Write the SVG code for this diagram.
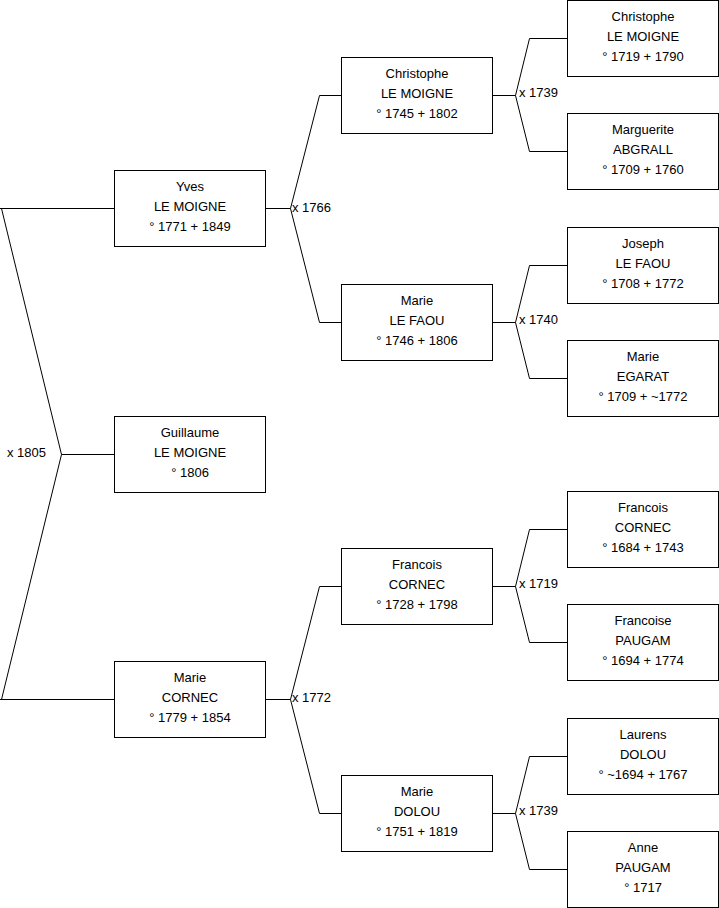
<svg xmlns="http://www.w3.org/2000/svg" width="719" height="908" viewBox="0 0 719 908">
<style>
rect.b{fill:#fff;stroke:#000;stroke-width:1}
text{font-family:"Liberation Sans",Arial,sans-serif;font-size:13px;fill:#000}
text.c{text-anchor:middle}
.ln path{fill:none;stroke:#000;stroke-width:1}
</style>
<rect width="719" height="908" fill="#fff"/>
<g class="ln" id="connectors">
<path d="M0,208.5H114.5M1.5,208.5L61.5,454.5L1.5,699.5M0,699.5H114.5M61.5,454.5H114.5"/>
<path d="M265.5,208.5H290.5L319.5,95.5H341.5M290.5,208.5L319.5,322.5H341.5"/>
<path d="M265.5,699.5H290.5L319.5,586.5H341.5M290.5,699.5L319.5,813.5H341.5"/>
<path d="M492.5,95.5H515.5L529.5,38.5H567.5M515.5,95.5L529.5,151.5H567.5"/>
<path d="M492.5,322.5H515.5L529.5,265.5H567.5M515.5,322.5L529.5,378.5H567.5"/>
<path d="M492.5,586.5H515.5L529.5,529.5H567.5M515.5,586.5L529.5,642.5H567.5"/>
<path d="M492.5,813.5H515.5L529.5,756.5H567.5M515.5,813.5L529.5,869.5H567.5"/>
<text x="7" y="457">x 1805</text>
<text x="292" y="212">x 1766</text>
<text x="292" y="702">x 1772</text>
<text x="519" y="97">x 1739</text>
<text x="519" y="324">x 1740</text>
<text x="519" y="588">x 1719</text>
<text x="519" y="815">x 1739</text>
</g>
<g id="yves"><rect class="b" x="114.5" y="170.5" width="151" height="76"/><text class="c" x="190" y="191">Yves</text><text class="c" x="190" y="211">LE MOIGNE</text><text class="c" x="190" y="231">° 1771 + 1849</text></g>
<g id="guillaume"><rect class="b" x="114.5" y="416.5" width="151" height="76"/><text class="c" x="190" y="437">Guillaume</text><text class="c" x="190" y="457">LE MOIGNE</text><text class="c" x="190" y="477">° 1806</text></g>
<g id="marie-cornec"><rect class="b" x="114.5" y="661.5" width="151" height="76"/><text class="c" x="190" y="682">Marie</text><text class="c" x="190" y="702">CORNEC</text><text class="c" x="190" y="722">° 1779 + 1854</text></g>
<g id="christophe-1745"><rect class="b" x="341.5" y="57.5" width="151" height="76"/><text class="c" x="417" y="78">Christophe</text><text class="c" x="417" y="98">LE MOIGNE</text><text class="c" x="417" y="118">° 1745 + 1802</text></g>
<g id="marie-lefaou"><rect class="b" x="341.5" y="284.5" width="151" height="76"/><text class="c" x="417" y="305">Marie</text><text class="c" x="417" y="325">LE FAOU</text><text class="c" x="417" y="345">° 1746 + 1806</text></g>
<g id="francois-1728"><rect class="b" x="341.5" y="548.5" width="151" height="76"/><text class="c" x="417" y="569">Francois</text><text class="c" x="417" y="589">CORNEC</text><text class="c" x="417" y="609">° 1728 + 1798</text></g>
<g id="marie-dolou"><rect class="b" x="341.5" y="775.5" width="151" height="76"/><text class="c" x="417" y="796">Marie</text><text class="c" x="417" y="816">DOLOU</text><text class="c" x="417" y="836">° 1751 + 1819</text></g>
<g id="christophe-1719"><rect class="b" x="567.5" y="0.5" width="151" height="76"/><text class="c" x="643" y="21">Christophe</text><text class="c" x="643" y="41">LE MOIGNE</text><text class="c" x="643" y="61">° 1719 + 1790</text></g>
<g id="marguerite"><rect class="b" x="567.5" y="113.5" width="151" height="76"/><text class="c" x="643" y="134">Marguerite</text><text class="c" x="643" y="154">ABGRALL</text><text class="c" x="643" y="174">° 1709 + 1760</text></g>
<g id="joseph"><rect class="b" x="567.5" y="227.5" width="151" height="76"/><text class="c" x="643" y="248">Joseph</text><text class="c" x="643" y="268">LE FAOU</text><text class="c" x="643" y="288">° 1708 + 1772</text></g>
<g id="marie-egarat"><rect class="b" x="567.5" y="340.5" width="151" height="76"/><text class="c" x="643" y="361">Marie</text><text class="c" x="643" y="381">EGARAT</text><text class="c" x="643" y="401">° 1709 + ~1772</text></g>
<g id="francois-1684"><rect class="b" x="567.5" y="491.5" width="151" height="76"/><text class="c" x="643" y="512">Francois</text><text class="c" x="643" y="532">CORNEC</text><text class="c" x="643" y="552">° 1684 + 1743</text></g>
<g id="francoise"><rect class="b" x="567.5" y="604.5" width="151" height="76"/><text class="c" x="643" y="625">Francoise</text><text class="c" x="643" y="645">PAUGAM</text><text class="c" x="643" y="665">° 1694 + 1774</text></g>
<g id="laurens"><rect class="b" x="567.5" y="718.5" width="151" height="76"/><text class="c" x="643" y="739">Laurens</text><text class="c" x="643" y="759">DOLOU</text><text class="c" x="643" y="779">° ~1694 + 1767</text></g>
<g id="anne"><rect class="b" x="567.5" y="831.5" width="151" height="76"/><text class="c" x="643" y="852">Anne</text><text class="c" x="643" y="872">PAUGAM</text><text class="c" x="643" y="892">° 1717</text></g>
</svg>
